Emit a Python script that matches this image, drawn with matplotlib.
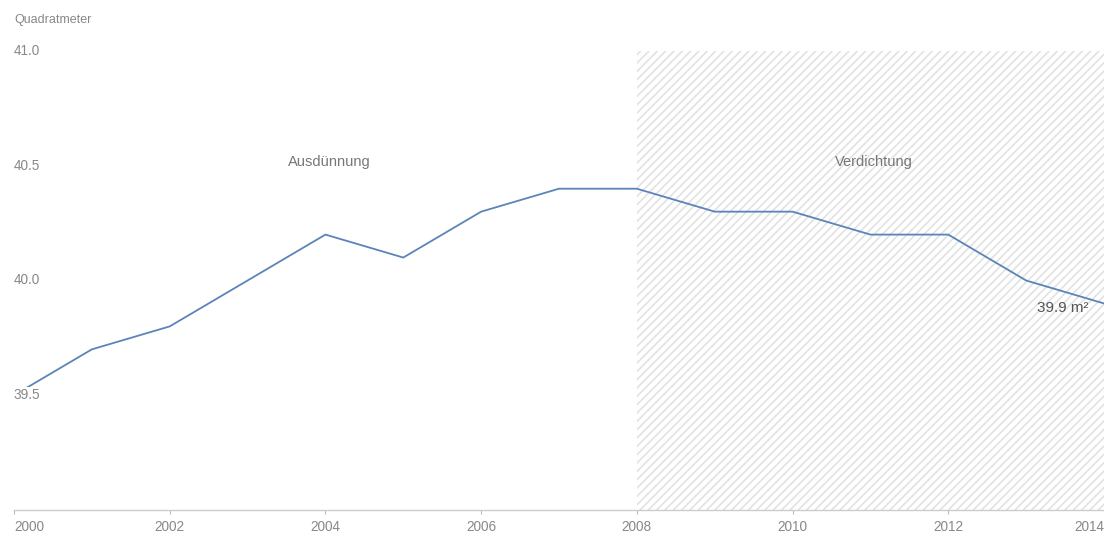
import matplotlib
matplotlib.use("Agg")
import matplotlib.pyplot as plt

years = [2000, 2001, 2002, 2003, 2004, 2005, 2006, 2007, 2008, 2009, 2010, 2011, 2012, 2013, 2014]
values = [39.5, 39.7, 39.8, 40.0, 40.2, 40.1, 40.3, 40.4, 40.4, 40.3, 40.3, 40.2, 40.2, 40.0, 39.9]
x_ticks = [2000, 2002, 2004, 2006, 2008, 2010, 2012, 2014]
y_ticks = [39.5, 40.0, 40.5, 41.0]
y_tick_labels = ["39.5", "40.0", "40.5", "41.0"]
phase_split = 2008
phase_labels = ["Ausdünnung", "Verdichtung"]
unit_label = "Quadratmeter"
end_label = "39.9 m²"

plt.rcParams['font.family'] = ['Liberation Sans', 'DejaVu Sans']
plt.rcParams['hatch.color'] = '#e2e2e2'
plt.rcParams['hatch.linewidth'] = 1.2

W, H = 1104, 535
fig = plt.figure(figsize=(W / 100, H / 100), dpi=100)
left_px, right_px = 14, 1104
top_px, bot_px = 51, 510
ax = fig.add_axes([left_px / W, (H - bot_px) / H, (right_px - left_px) / W, (bot_px - top_px) / H])

px_per_year = (1108 - 14) / 14.0
ax.set_xlim(2000, 2000 + (right_px - left_px) / px_per_year)
ax.set_ylim(39.0, 41.0)

# hatched region
ax.axvspan(phase_split, 2016, ymin=0, ymax=1, facecolor='white', edgecolor='#e2e2e2',
           hatch='////', linewidth=0, zorder=0)

ax.plot(years, values, color='#5b84b8', linewidth=1.3, zorder=2, clip_on=False)

for yv, lab in zip(y_ticks, y_tick_labels):
    ax.text(2000, yv, lab, ha='left', va='center', fontsize=9.8, color='#888888',
            bbox=dict(facecolor='white', edgecolor='none', pad=1.0), zorder=3)

ax.text(2004.05, 40.515, phase_labels[0], ha='center', va='center', fontsize=10.5, color='#777777', zorder=3)
ax.text(2011.05, 40.515, phase_labels[1], ha='center', va='center', fontsize=10.5, color='#777777', zorder=3)

ax.annotate(end_label, xy=(2014, 39.9), xytext=(-11, -3), textcoords='offset points',
            ha='right', va='center', fontsize=11, color='#555555', zorder=4, annotation_clip=False)

fig.text(14 / W, 1 - 20 / H, unit_label, ha='left', va='center', fontsize=9, color='#888888')

for s in ['top', 'right', 'left']:
    ax.spines[s].set_visible(False)
ax.spines['bottom'].set_color('#cccccc')
ax.spines['bottom'].set_linewidth(1.0)
ax.set_yticks([])
ax.set_xticks(x_ticks)
ax.set_xticklabels([str(t) for t in x_ticks])
ax.tick_params(axis='x', length=3, color='#bbbbbb', labelsize=9.8, labelcolor='#888888', pad=4)
for lbl in ax.get_xticklabels():
    if lbl.get_text() == '2000':
        lbl.set_horizontalalignment('left')
    if lbl.get_text() == '2014':
        lbl.set_horizontalalignment('right')
ax.set_facecolor('white')

fig.savefig('out.png', dpi=100)
